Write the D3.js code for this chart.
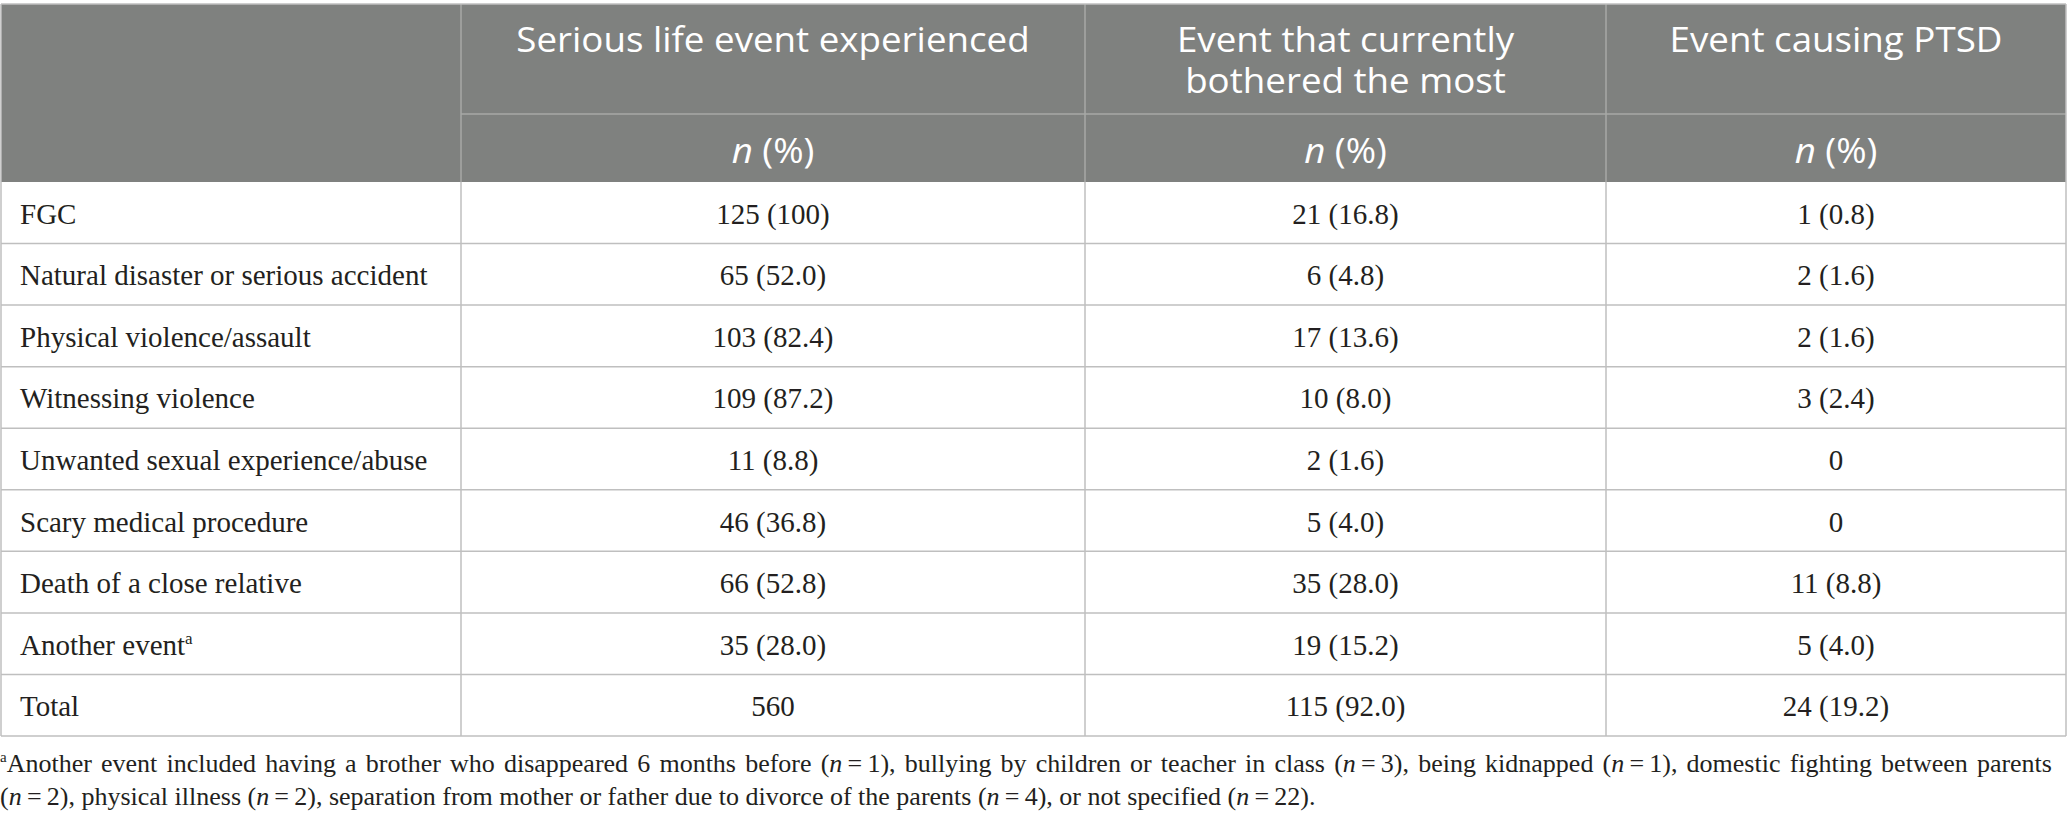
<!DOCTYPE html>
<html>
<head>
<meta charset="utf-8">
<script src="https://cdn.jsdelivr.net/npm/d3@7"></script>
<style>
  html, body { margin: 0; padding: 0; background: #fff; }
  svg { display: block; }
</style>
</head>
<body>
<div class="svg-container"></div>
<script>
// table content
const categories = ["FGC", "Natural disaster or serious accident", "Physical violence/assault",
  "Witnessing violence", "Unwanted sexual experience/abuse", "Scary medical procedure",
  "Death of a close relative", "Another event", "Total"];
const columnTitles = [["Serious life event experienced"], ["Event that currently", "bothered the most"], ["Event causing PTSD"]];
const experiencedN = [125, 65, 103, 109, 11, 46, 66, 35, 560];
const experiencedPct = [100, 52.0, 82.4, 87.2, 8.8, 36.8, 52.8, 28.0, null];
const botheredN = [21, 6, 17, 10, 2, 5, 35, 19, 115];
const botheredPct = [16.8, 4.8, 13.6, 8.0, 1.6, 4.0, 28.0, 15.2, 92.0];
const ptsdN = [1, 2, 2, 3, 0, 0, 11, 5, 24];
const ptsdPct = [0.8, 1.6, 1.6, 2.4, null, null, 8.8, 4.0, 19.2];
const footnoteLines = [
  ["Another event included having a brother who disappeared 6 months before (", "n", "\u2009=\u20091), bullying by children or teacher in class (", "n", "\u2009=\u20093), being kidnapped (", "n", "\u2009=\u20091), domestic fighting between parents"],
  ["(", "n", "\u2009=\u20092), physical illness (", "n", "\u2009=\u20092), separation from mother or father due to divorce of the parents (", "n", "\u2009=\u20094), or not specified (", "n", "\u2009=\u200922)."]
];

const W = 2067, H = 825;
const colEdges = [1, 461, 1085, 1606, 2066];
const headerTop = 4, header1Bottom = 114, bodyTop = 182, bodyBottom = 736;
const headFont = "'Open Sans', 'Noto Sans', sans-serif";
const bodyFont = "'Liberation Serif', 'DejaVu Serif', serif";
const ink = "#231f20";

const svg = d3.select("div.svg-container").append("svg")
  .attr("width", W).attr("height", H);

const y = d3.scaleBand().domain(categories).range([bodyTop, bodyBottom]);
const colCenter = i => (colEdges[i] + colEdges[i + 1]) / 2;

const fmt = (n, p) => {
  if (p == null) return String(n);
  return `${n} (${p === 100 ? "100" : d3.format(".1f")(p)})`;
};
const columns = [
  experiencedN.map((n, i) => fmt(n, experiencedPct[i])),
  botheredN.map((n, i) => fmt(n, botheredPct[i])),
  ptsdN.map((n, i) => fmt(n, ptsdPct[i]))
];

// header background
svg.append("rect")
  .attr("x", colEdges[0]).attr("y", headerTop)
  .attr("width", colEdges[4] - colEdges[0]).attr("height", bodyTop - headerTop)
  .attr("fill", "#7f817f");

const headLines = svg.append("g").attr("stroke", "#a7a8a6").attr("stroke-width", 1.5);
colEdges.slice(1, 4).forEach(x => {
  headLines.append("line").attr("x1", x).attr("x2", x).attr("y1", headerTop).attr("y2", bodyTop);
});
headLines.append("line").attr("x1", colEdges[1]).attr("x2", colEdges[4]).attr("y1", header1Bottom).attr("y2", header1Bottom);

// header titles - the original face is a little wider than Open Sans, so stretch x a bit
columnTitles.forEach((lines, c) => {
  const g = svg.append("g")
    .attr("transform", `translate(${colCenter(c + 1)},0) scale(1.08,1)`)
    .attr("font-family", headFont).attr("font-size", 34)
    .attr("fill", "#fff").attr("text-anchor", "middle");
  const title = g.append("text").attr("y", 52);
  lines.forEach((t, k) => {
    title.append("tspan").attr("x", 0).attr("dy", k === 0 ? 0 : 41.5).text(t);
  });
  const sub = g.append("text").attr("y", 163);
  sub.append("tspan").attr("font-style", "italic").text("n");
  sub.append("tspan").text(" (%)");
});

// body grid
const grid = svg.append("g").attr("stroke", "#bfbfbf").attr("stroke-width", 1.5);
categories.forEach(cat => {
  grid.append("line").attr("x1", colEdges[0]).attr("x2", colEdges[4])
    .attr("y1", y(cat) + y.bandwidth()).attr("y2", y(cat) + y.bandwidth());
});
colEdges.forEach((x, i) => {
  grid.append("line").attr("x1", x).attr("x2", x)
    .attr("y1", (i === 0 || i === 4) ? headerTop : bodyTop).attr("y2", bodyBottom);
});
grid.append("line").attr("x1", colEdges[0]).attr("x2", colEdges[4]).attr("y1", headerTop).attr("y2", headerTop);

// row labels
const labels = svg.append("g").attr("font-family", bodyFont).attr("font-size", 29).attr("fill", ink);
categories.forEach(cat => {
  const t = labels.append("text").attr("x", 20).attr("y", y(cat) + y.bandwidth() / 2 + 11).text(cat);
  if (cat === "Another event") {
    t.append("tspan").attr("font-size", 17).attr("dy", -11).text("a");
  }
});

// cell values
columns.forEach((vals, c) => {
  labels.selectAll(null).data(vals).join("text")
    .attr("x", colCenter(c + 1))
    .attr("y", (d, i) => y(categories[i]) + y.bandwidth() / 2 + 11)
    .attr("text-anchor", "middle")
    .text(d => d);
});

// footnote (first line justified to the table width)
const foot = svg.append("g").attr("font-family", bodyFont).attr("fill", ink);
footnoteLines.forEach((parts, k) => {
  const t = foot.append("text").attr("x", 0).attr("y", 772 + k * 33).attr("font-size", 26);
  if (k === 0) t.append("tspan").attr("font-size", 15).attr("dy", -10).text("a");
  parts.forEach((p, j) => {
    const s = t.append("tspan").text(p);
    if (k === 0 && j === 0) s.attr("dy", 10);
    if (p === "n") s.attr("font-style", "italic");
  });
  if (k === 0) {
    const spaces = parts.join("").split(" ").length - 1;
    const extra = (2052 - t.node().getComputedTextLength()) / spaces;
    t.attr("word-spacing", extra);
  }
});
</script>
</body>
</html>
